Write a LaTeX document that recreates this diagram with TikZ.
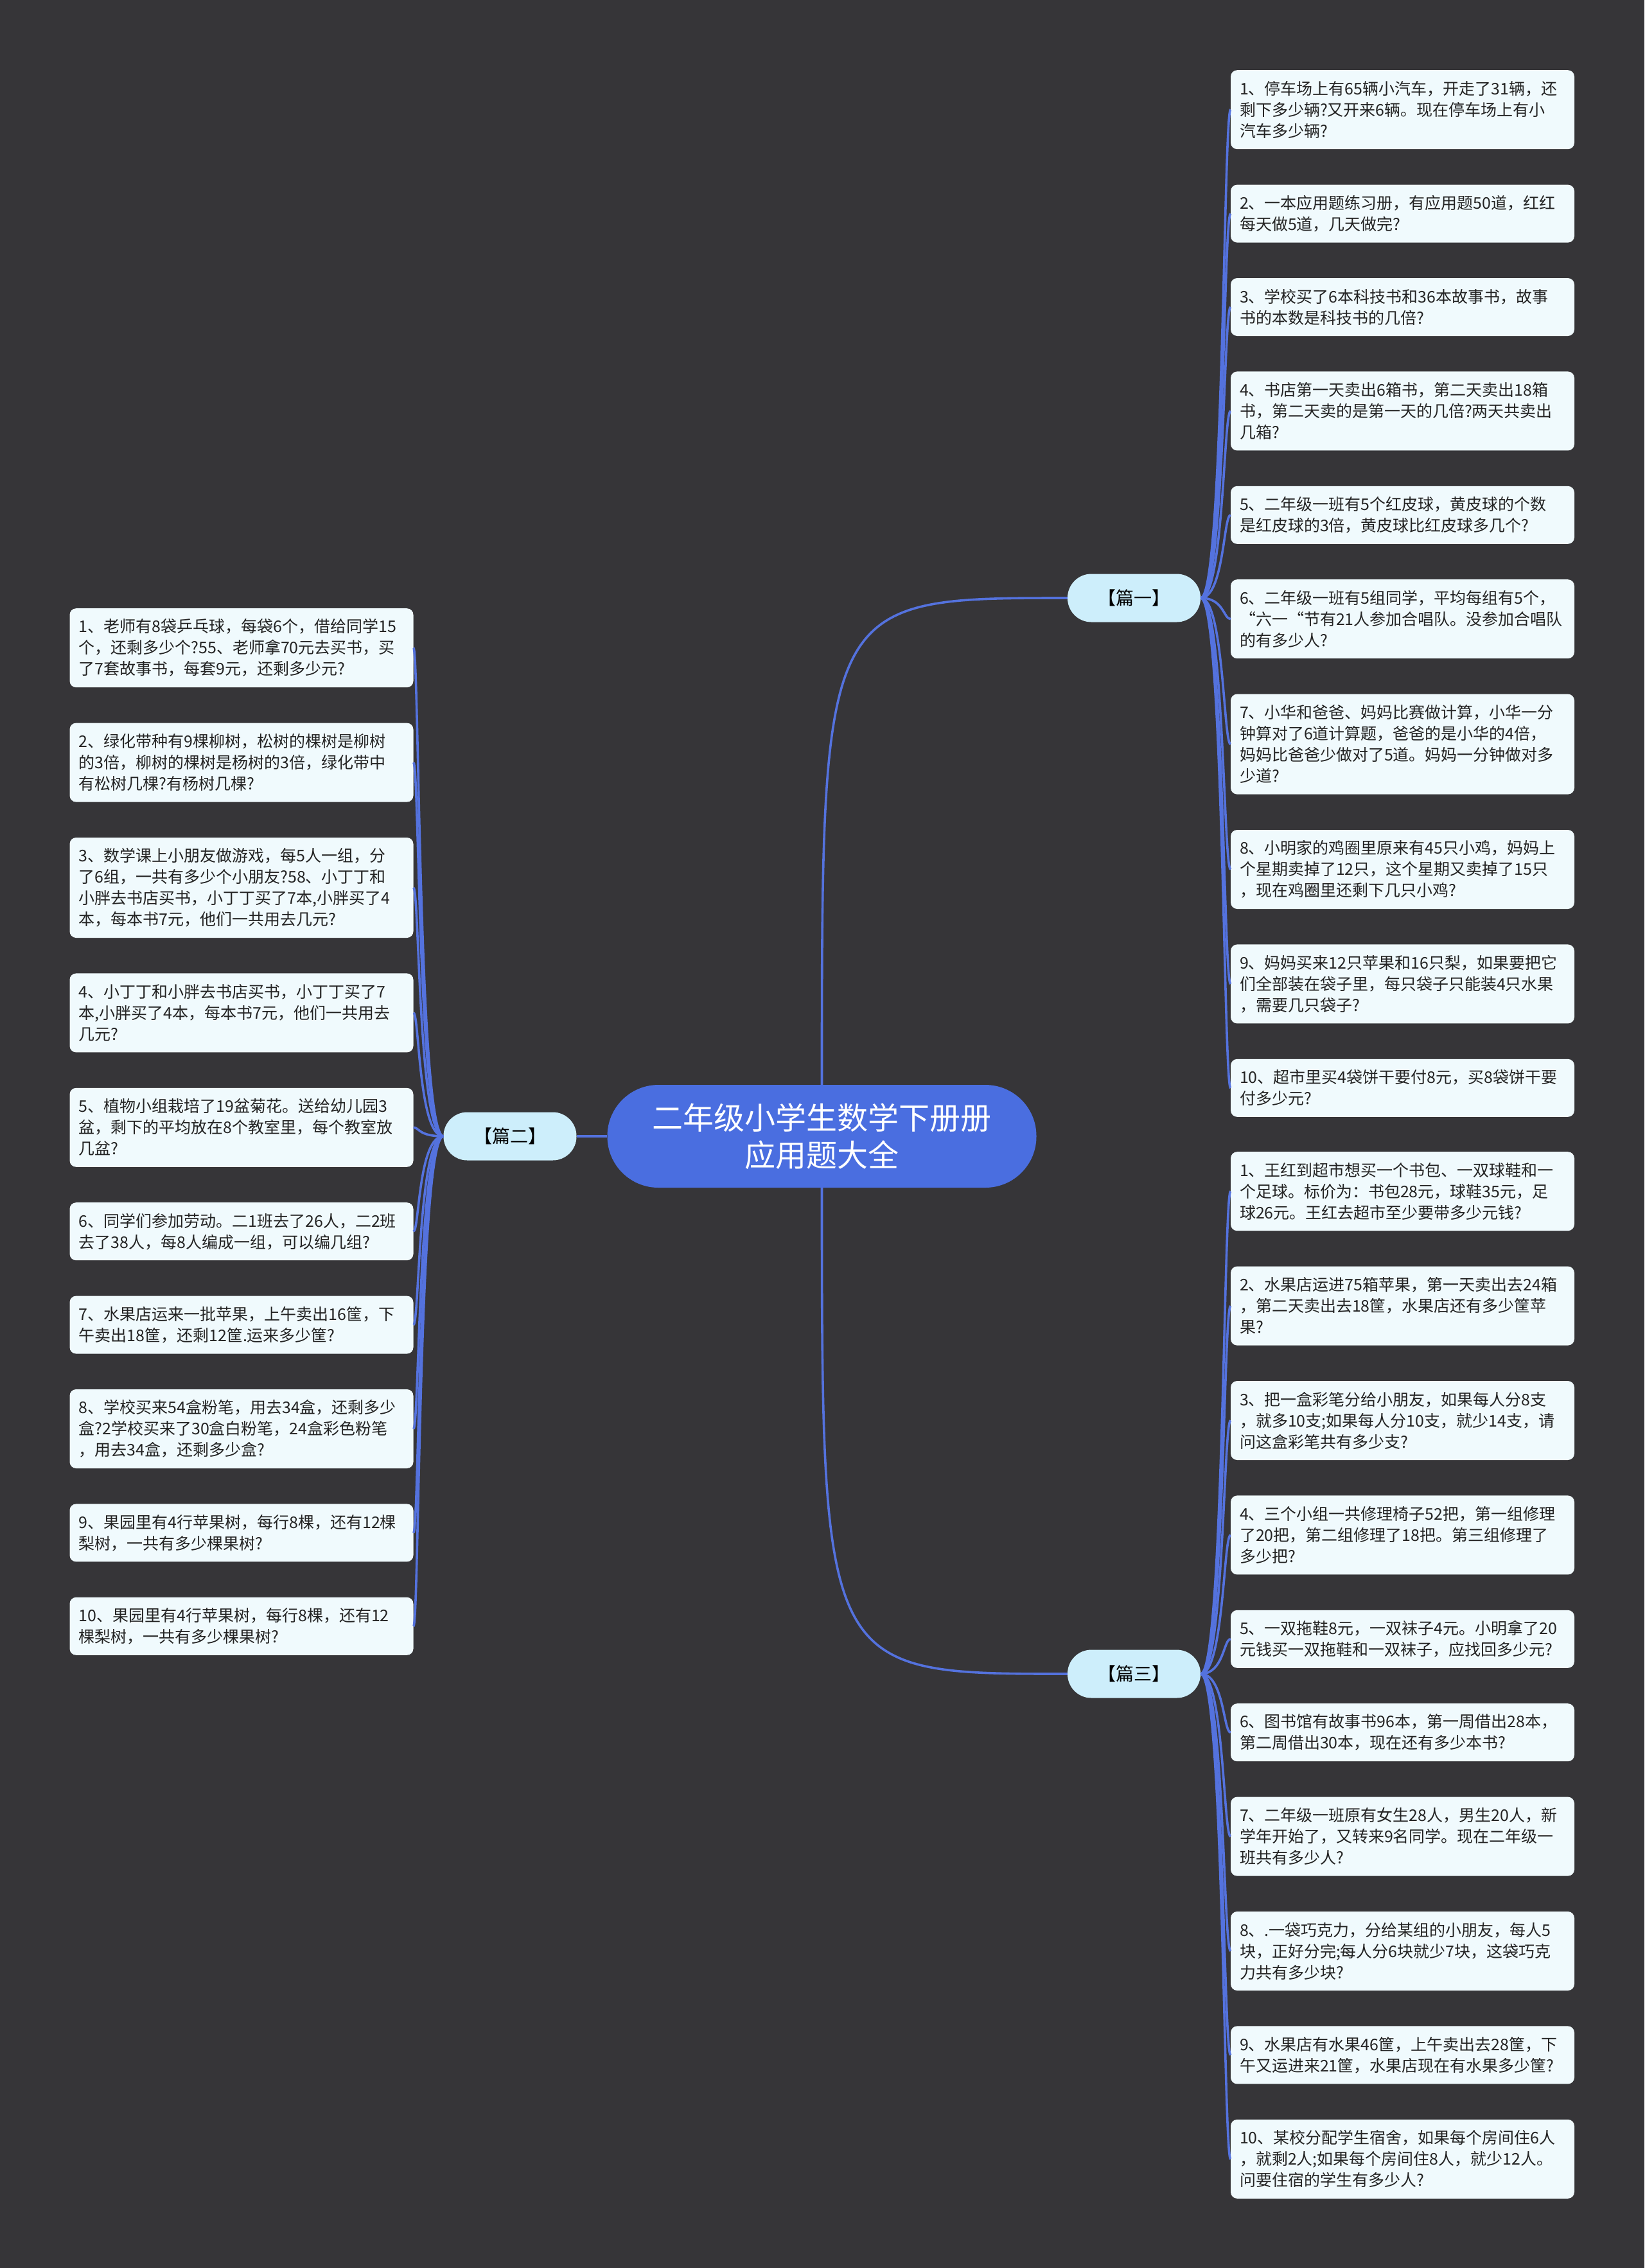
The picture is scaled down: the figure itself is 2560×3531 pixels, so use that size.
\documentclass[tikz,border=0pt]{standalone}
\usepackage{fontspec}
\setmainfont{Noto Sans CJK SC}
\usetikzlibrary{positioning}

\definecolor{bgdark}{RGB}{54,53,56}
\definecolor{rootblue}{RGB}{74,110,224}
\definecolor{linkblue}{RGB}{84,114,222}
\definecolor{partfill}{RGB}{205,238,251}
\definecolor{leaffill}{RGB}{240,250,253}
\definecolor{leaftext}{RGB}{35,35,35}

\tikzset{
    root/.style={fill=rootblue, text=white, rounded corners=79.5pt, minimum width=668pt, minimum height=160pt, align=center, font=\fontsize{48}{58}\selectfont},
    part/.style={fill=partfill, text=black, rounded corners=37pt, minimum width=207pt, minimum height=75pt, font=\fontsize{28}{34}\selectfont},
    leaf/.style={fill=leaffill, text=leaftext, rounded corners=10pt, text width=507pt, inner xsep=14pt, inner ysep=0pt, align=left, font=\fontsize{25}{33}\selectfont},
    leaftwo/.style={leaf, minimum height=90pt},
    leafthree/.style={leaf, minimum height=123pt},
    leaffour/.style={leaf, minimum height=156pt},
    link/.style={draw=linkblue, line width=3.6pt},
}

\begin{document}
\begin{tikzpicture}[x=1pt, y=-1pt]
    \useasboundingbox (0,0) rectangle (2560,3531);
    \fill[bgdark] (0,0) rectangle (2560,3531);

    % centre and the three parts
    \node[root] (root) at (1279.5,1769) {二年级小学生数学下册册\\应用题大全};
    \node[part] (p1) at (1765.5,931) {【篇一】};
    \node[part] (p2) at (794,1769) {【篇二】};
    \node[part] (p3) at (1765.5,2606) {【篇三】};

    % 篇一
    \node[leafthree, anchor=north] (a1) at (2183.5,109) {1、停车场上有65辆小汽车，开走了31辆，还\\剩下多少辆?又开来6辆。现在停车场上有小\\汽车多少辆?};
    \node[leaftwo, below=55pt of a1] (a2) {2、一本应用题练习册，有应用题50道，红红\\每天做5道，几天做完?};
    \node[leaftwo, below=55pt of a2] (a3) {3、学校买了6本科技书和36本故事书，故事\\书的本数是科技书的几倍?};
    \node[leafthree, below=55pt of a3] (a4) {4、书店第一天卖出6箱书，第二天卖出18箱\\书，第二天卖的是第一天的几倍?两天共卖出\\几箱?};
    \node[leaftwo, below=55pt of a4] (a5) {5、二年级一班有5个红皮球，黄皮球的个数\\是红皮球的3倍，黄皮球比红皮球多几个?};
    \node[leafthree, below=55pt of a5] (a6) {6、二年级一班有5组同学，平均每组有5个，\\“六一“节有21人参加合唱队。没参加合唱队\\的有多少人?};
    \node[leaffour, below=55pt of a6] (a7) {7、小华和爸爸、妈妈比赛做计算，小华一分\\钟算对了6道计算题，爸爸的是小华的4倍，\\妈妈比爸爸少做对了5道。妈妈一分钟做对多\\少道?};
    \node[leafthree, below=55pt of a7] (a8) {8、小明家的鸡圈里原来有45只小鸡，妈妈上\\个星期卖掉了12只，这个星期又卖掉了15只\\，现在鸡圈里还剩下几只小鸡?};
    \node[leafthree, below=55pt of a8] (a9) {9、妈妈买来12只苹果和16只梨，如果要把它\\们全部装在袋子里，每只袋子只能装4只水果\\，需要几只袋子?};
    \node[leaftwo, below=55pt of a9] (a10) {10、超市里买4袋饼干要付8元，买8袋饼干要\\付多少元?};

    % 篇二
    \node[leafthree, anchor=north] (b1) at (376,947) {1、老师有8袋乒乓球，每袋6个，借给同学15\\个，还剩多少个?55、老师拿70元去买书，买\\了7套故事书，每套9元，还剩多少元?};
    \node[leafthree, below=55pt of b1] (b2) {2、绿化带种有9棵柳树，松树的棵树是柳树\\的3倍，柳树的棵树是杨树的3倍，绿化带中\\有松树几棵?有杨树几棵?};
    \node[leaffour, below=55pt of b2] (b3) {3、数学课上小朋友做游戏，每5人一组，分\\了6组，一共有多少个小朋友?58、小丁丁和\\小胖去书店买书，小丁丁买了7本,小胖买了4\\本，每本书7元，他们一共用去几元?};
    \node[leafthree, below=55pt of b3] (b4) {4、小丁丁和小胖去书店买书，小丁丁买了7\\本,小胖买了4本，每本书7元，他们一共用去\\几元?};
    \node[leafthree, below=55pt of b4] (b5) {5、植物小组栽培了19盆菊花。送给幼儿园3\\盆，剩下的平均放在8个教室里，每个教室放\\几盆?};
    \node[leaftwo, below=55pt of b5] (b6) {6、同学们参加劳动。二1班去了26人，二2班\\去了38人，每8人编成一组，可以编几组?};
    \node[leaftwo, below=55pt of b6] (b7) {7、水果店运来一批苹果，上午卖出16筐，下\\午卖出18筐，还剩12筐.运来多少筐?};
    \node[leafthree, below=55pt of b7] (b8) {8、学校买来54盒粉笔，用去34盒，还剩多少\\盒?2学校买来了30盒白粉笔，24盒彩色粉笔\\，用去34盒，还剩多少盒?};
    \node[leaftwo, below=55pt of b8] (b9) {9、果园里有4行苹果树，每行8棵，还有12棵\\梨树，一共有多少棵果树?};
    \node[leaftwo, below=55pt of b9] (b10) {10、果园里有4行苹果树，每行8棵，还有12\\棵梨树，一共有多少棵果树?};

    % 篇三
    \node[leafthree, anchor=north] (c1) at (2183.5,1793) {1、王红到超市想买一个书包、一双球鞋和一\\个足球。标价为：书包28元，球鞋35元，足\\球26元。王红去超市至少要带多少元钱?};
    \node[leafthree, below=55pt of c1] (c2) {2、水果店运进75箱苹果，第一天卖出去24箱\\，第二天卖出去18筐，水果店还有多少筐苹\\果?};
    \node[leafthree, below=55pt of c2] (c3) {3、把一盒彩笔分给小朋友，如果每人分8支\\，就多10支;如果每人分10支，就少14支，请\\问这盒彩笔共有多少支?};
    \node[leafthree, below=55pt of c3] (c4) {4、三个小组一共修理椅子52把，第一组修理\\了20把，第二组修理了18把。第三组修理了\\多少把?};
    \node[leaftwo, below=55pt of c4] (c5) {5、一双拖鞋8元，一双袜子4元。小明拿了20\\元钱买一双拖鞋和一双袜子，应找回多少元?};
    \node[leaftwo, below=55pt of c5] (c6) {6、图书馆有故事书96本，第一周借出28本，\\第二周借出30本，现在还有多少本书?};
    \node[leafthree, below=55pt of c6] (c7) {7、二年级一班原有女生28人，男生20人，新\\学年开始了，又转来9名同学。现在二年级一\\班共有多少人?};
    \node[leafthree, below=55pt of c7] (c8) {8、.一袋巧克力，分给某组的小朋友，每人5\\块，正好分完;每人分6块就少7块，这袋巧克\\力共有多少块?};
    \node[leaftwo, below=55pt of c8] (c9) {9、水果店有水果46筐，上午卖出去28筐，下\\午又运进来21筐，水果店现在有水果多少筐?};
    \node[leafthree, below=55pt of c9] (c10) {10、某校分配学生宿舍，如果每个房间住6人\\，就剩2人;如果每个房间住8人，就少12人。\\问要住宿的学生有多少人?};

    % connectors
    \draw[link] (root.north) .. controls (root.north |- p1.west) .. (p1.west);
    \draw[link] (root.south) .. controls (root.south |- p3.west) .. (p3.west);
    \draw[link] (root.west) -- (p2.east);
    \foreach \i in {1,...,10} {
        \draw[link] (p1.east) .. controls +(36,0) and +(-11,0) .. (a\i.west);
        \draw[link] (p2.west) .. controls +(-39,0) and +(9,0) .. (b\i.east);
        \draw[link] (p3.east) .. controls +(36,0) and +(-11,0) .. (c\i.west);
    }
\end{tikzpicture}
\end{document}
